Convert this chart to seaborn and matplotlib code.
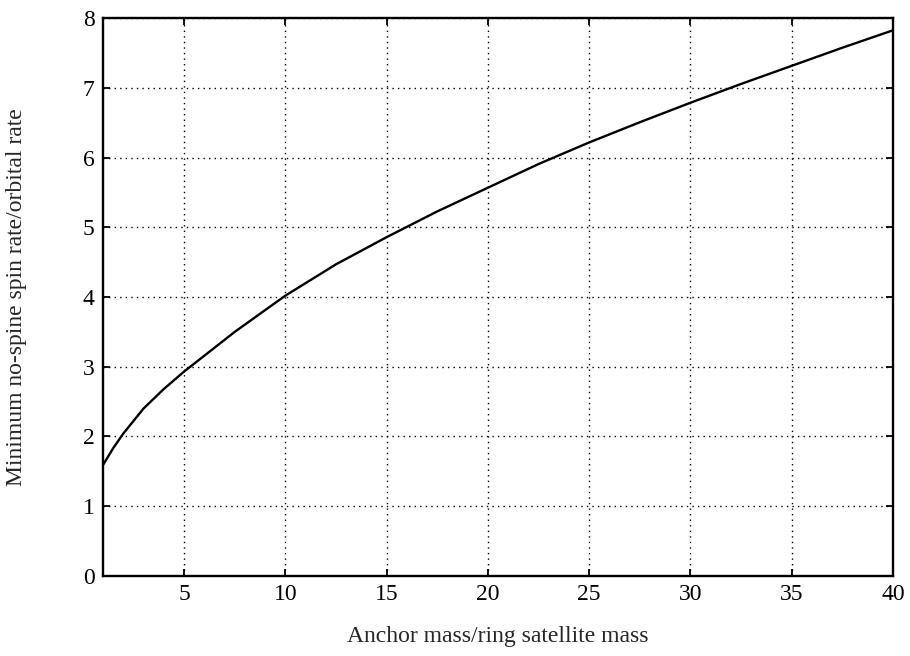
import matplotlib
matplotlib.use("Agg")
import matplotlib.pyplot as plt
import seaborn as sns
import pandas as pd

# Data
mass_ratio = [1, 1.5, 2, 3, 4, 5, 7.5, 10, 12.5, 15, 17.5, 20, 22.5, 25, 27.5, 30, 32.5, 35, 37.5, 40]
spin_ratio = [1.59, 1.83, 2.04, 2.40, 2.68, 2.93, 3.50, 4.02, 4.47, 4.86, 5.23, 5.57, 5.91, 6.22, 6.51, 6.79, 7.06, 7.32, 7.58, 7.83]
x_ticks = [5, 10, 15, 20, 25, 30, 35, 40]
y_ticks = [0, 1, 2, 3, 4, 5, 6, 7, 8]
x_label = "Anchor mass/ring satellite mass"
y_label = "Minimum no-spine spin rate/orbital rate"

sns.set_style("ticks")
plt.rcParams['font.family'] = ['Liberation Serif', 'DejaVu Serif']

df = pd.DataFrame({"x": mass_ratio, "y": spin_ratio})

fig = plt.figure(figsize=(9.1, 6.56), dpi=100)
ax = fig.add_axes([0.1132, 0.1224, 0.868, 0.8494])
sns.lineplot(data=df, x="x", y="y", ax=ax, color="black", linewidth=1.7)

ax.set_xlim(1, 40)
ax.set_ylim(0, 8)
ax.set_xticks(x_ticks)
ax.set_yticks(y_ticks)
ax.grid(True, color="black", linestyle=(0, (1, 3)), linewidth=1.0)
ax.tick_params(direction="in", length=5, width=1.3, top=True, right=True,
               labelsize=17, colors="black", pad=6)
for s in ax.spines.values():
    s.set_color("black")
    s.set_linewidth(1.7)
    s.set_visible(True)
ax.set_xlabel(x_label, fontsize=17, labelpad=15)
ax.set_ylabel(y_label, fontsize=17, labelpad=40)

fig.savefig("out.png", dpi=100)
